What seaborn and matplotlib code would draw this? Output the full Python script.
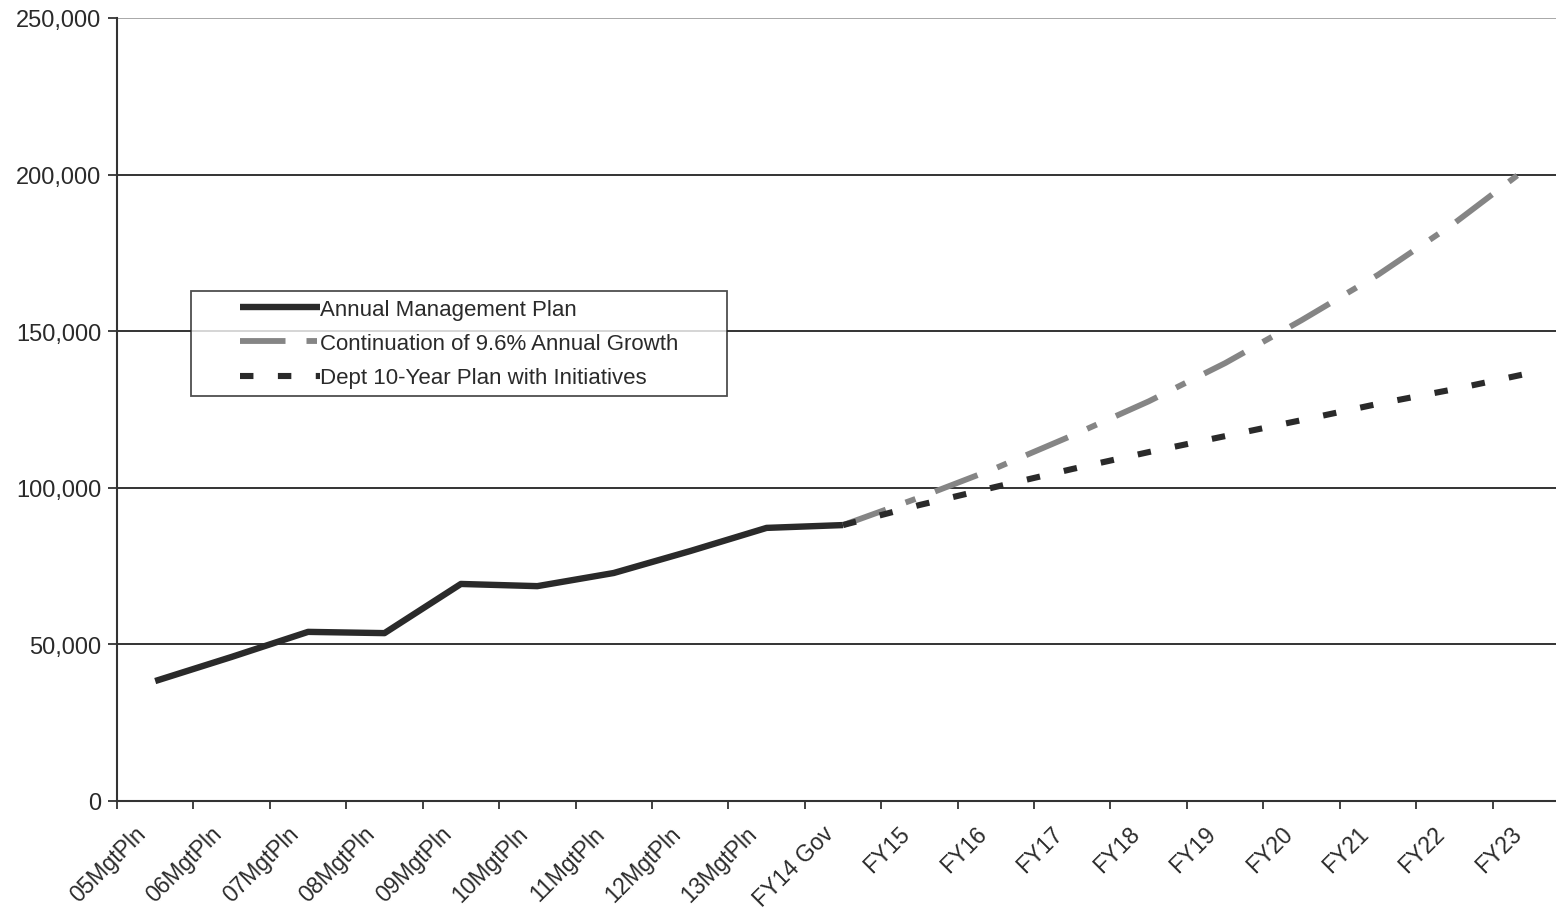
import matplotlib
matplotlib.use('Agg')
import matplotlib.pyplot as plt
import matplotlib.transforms as mtransforms
import pandas as pd
import seaborn as sns
from matplotlib.lines import Line2D
from matplotlib.legend_handler import HandlerLine2D
from matplotlib.ticker import FuncFormatter

categories = ['05MgtPln', '06MgtPln', '07MgtPln', '08MgtPln', '09MgtPln', '10MgtPln',
              '11MgtPln', '12MgtPln', '13MgtPln', 'FY14 Gov', 'FY15', 'FY16', 'FY17',
              'FY18', 'FY19', 'FY20', 'FY21', 'FY22', 'FY23']

mgt_years = categories[:10]
mgt_values = [38300, 46000, 54000, 53600, 69300, 68600, 72800, 79800, 87200, 88100]

growth_years = categories[9:]
growth_values = [88100, 96900, 106300, 116700, 127600, 139800, 153500, 168000, 184500, 203000]

dept_years = categories[9:]
dept_values = [88100, 94500, 100300, 106000, 111400, 116500, 121600, 126800, 131500, 136700]

labels = ['Annual Management Plan', 'Continuation of 9.6% Annual Growth',
          'Dept 10-Year Plan with Initiatives']

sns.set_style('white')
plt.rcParams['font.family'] = ['Liberation Sans', 'DejaVu Sans']
plt.rc('xtick', labelsize=16.5)
plt.rc('ytick', labelsize=17)

W, H = 1556, 912
fig = plt.figure(figsize=(W / 100, H / 100), dpi=100)
# plot area from the reference: left 117px, bottom 802px, top 19px
ax = fig.add_axes([117 / W, (H - 802) / H, (1569 - 117) / W, (802 - 19) / H])

frames = []
for name, yrs, vals in [(labels[0], mgt_years, mgt_values),
                        (labels[1], growth_years, growth_values),
                        (labels[2], dept_years, dept_values)]:
    frames.append(pd.DataFrame({'series': name,
                                'pos': [categories.index(y) for y in yrs],
                                'value': vals}))
data = pd.concat(frames, ignore_index=True)

styles = {
    labels[0]: dict(color='#2a2a2a', lw=4.6, dash=None),
    labels[1]: dict(color='#858585', lw=4.2, dash=(7.8, 3.6, 1.8, 3.6)),
    labels[2]: dict(color='#2a2a2a', lw=4.4, dash=(2.2, 4.0)),
}

handles = []
for name in labels:
    st = styles[name]
    sub = data[data['series'] == name]
    sns.lineplot(data=sub, x='pos', y='value', ax=ax, color=st['color'],
                 linewidth=st['lw'], legend=False)
    line = ax.lines[-1]
    line.set_solid_capstyle('butt')
    line.set_dash_capstyle('butt')
    if st['dash'] is not None:
        line.set_dashes(st['dash'])
    handles.append(line)

ax.set_xlim(-0.5, 18.5)
ax.set_ylim(0, 250000)
ax.set_yticks(range(0, 250001, 50000))
ax.yaxis.set_major_formatter(FuncFormatter(lambda v, p: f'{int(v):,}'))

ax.set_xticks(range(len(categories)))
ax.set_xticklabels(categories, rotation=45, ha='right', rotation_mode='anchor',
                   color='#2a2a2a')
ax.tick_params(axis='x', which='major', length=0, pad=15)
shift = mtransforms.ScaledTranslation(-21 / 100, 0, fig.dpi_scale_trans)
for lbl in ax.get_xticklabels():
    lbl.set_transform(lbl.get_transform() + shift)
ax.set_xticks([i - 0.5 for i in range(len(categories))], minor=True)
ax.tick_params(axis='x', which='minor', bottom=True, length=6, width=1.3,
               color='#333333', direction='out')
ax.tick_params(axis='y', length=6.5, width=1.3, color='#333333', direction='out', pad=5,
               left=True, labelcolor='#2a2a2a')

ax.set_xlabel('')
ax.set_ylabel('')
ax.grid(axis='y', color='#333333', linewidth=1.4)
ax.yaxis.get_gridlines()[-1].set_color('#999999')
ax.yaxis.get_gridlines()[-1].set_linewidth(1.2)
ax.set_axisbelow(True)
for side in ['top', 'right']:
    ax.spines[side].set_visible(False)
for side in ['left', 'bottom']:
    ax.spines[side].set_color('#333333')
    ax.spines[side].set_linewidth(1.5)

fs = 16
px = fs * 100 / 72
aw = (1569 - 117)
ah = (802 - 19)
leg = ax.legend(handles, labels, loc='upper left', mode='expand',
                bbox_to_anchor=((191 - 117) / aw, (802 - 292) / ah, (727 - 191) / aw, 0),
                borderaxespad=0, fontsize=fs, frameon=True, fancybox=False,
                edgecolor='#222222', handlelength=121 / px, handletextpad=0.0,
                labelspacing=0.6, borderpad=0.35, labelcolor='#2a2a2a',
                handler_map={Line2D: HandlerLine2D(xpad=41 / px)})
leg.get_frame().set_linewidth(1.3)

fig.savefig('out.png', dpi=100)
